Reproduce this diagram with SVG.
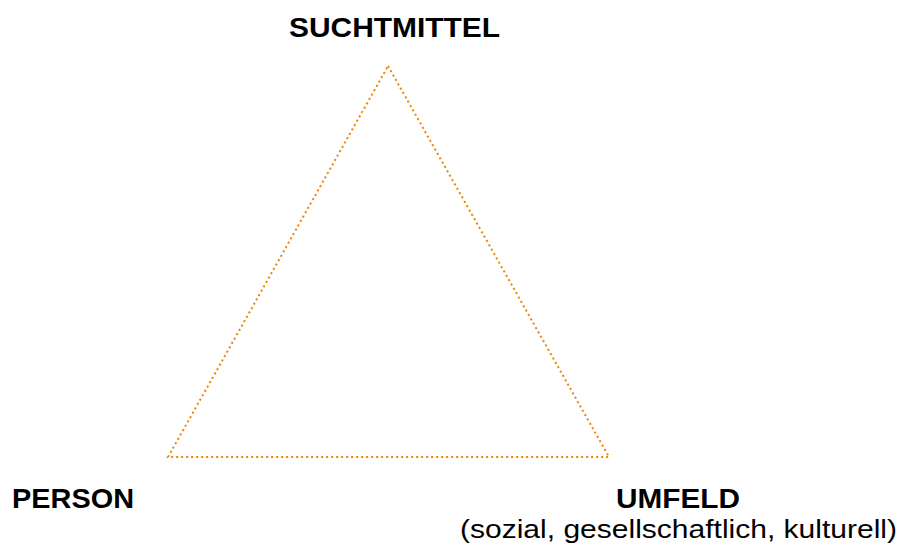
<svg xmlns="http://www.w3.org/2000/svg" width="899" height="549" viewBox="0 0 899 549">
<style>
.lbl{font-family:"Liberation Sans",Arial,sans-serif;font-weight:bold;font-size:28px;fill:#000}
.sub{font-family:"Liberation Sans",Arial,sans-serif;font-size:26px;fill:#000}
.edge{fill:none;stroke:#f08400;stroke-width:2;stroke-dasharray:2 3}
</style>
<rect width="899" height="549" fill="#fff"/>
<g id="connectors">
<path class="edge" d="M388,66 L609,457 L168,457 Z"/>
</g>
<g id="suchtmittel"><text class="lbl" x="289" y="37" textLength="211" lengthAdjust="spacingAndGlyphs">SUCHTMITTEL</text></g>
<g id="person"><text class="lbl" x="12" y="508" textLength="122" lengthAdjust="spacingAndGlyphs">PERSON</text></g>
<g id="umfeld"><text class="lbl" x="616" y="508" textLength="124" lengthAdjust="spacingAndGlyphs">UMFELD</text>
<text class="sub" x="460" y="538" textLength="437" lengthAdjust="spacingAndGlyphs">(sozial, gesellschaftlich, kulturell)</text></g>
</svg>
